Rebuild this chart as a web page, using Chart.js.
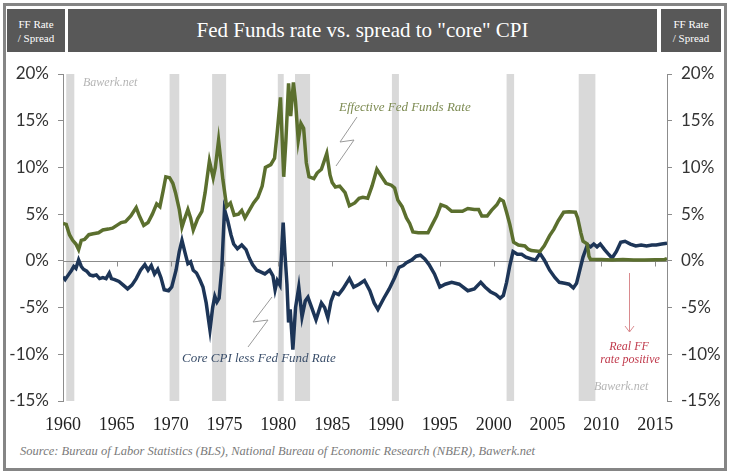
<!DOCTYPE html>
<html>
<head>
  <meta charset="utf-8" />
  <title>Fed Funds rate vs. spread to core CPI</title>
  <script src="https://cdn.jsdelivr.net/npm/chart.js"></script>
  <style>
    body { margin: 0; background: #fff; }
    #wrap { position: relative; width: 730px; height: 474px; overflow: hidden; }
    #frame { position: absolute; left: 3px; top: 3px; width: 718px; height: 462px; border: 3px solid #858585; }
    .hbox { position: absolute; top: 9px; height: 43px; background: #585858; color: #fff;
            font-family: "Liberation Serif", serif; display: flex; align-items: center; justify-content: center; text-align: center; }
    .side { font-size: 11px; line-height: 14px; }
    #title { font-size: 21px; }
    #source { position: absolute; left: 20px; top: 444px; font: italic 12.5px "Liberation Serif", serif; color: #7a7a7a; }
    canvas { position: absolute; left: 0; top: 0; }
  </style>
</head>
<body>
<div id="wrap">
  <div id="frame"></div>
  <div class="hbox side" style="left:7px;width:58px;">FF Rate<br>/ Spread</div>
  <div class="hbox" id="title" style="left:68px;width:589px;">Fed Funds rate vs. spread to "core" CPI</div>
  <div class="hbox side" style="left:661px;width:60px;">FF Rate<br>/ Spread</div>
  <div id="source">Source: Bureau of Labor Statistics (BLS), National Bureau of Economic Research (NBER), Bawerk.net</div>
  <canvas id="chart" width="730" height="474"></canvas>
</div>

<script>
  // Effective Fed Funds rate (%)
  const ffYears = [1960.0, 1960.3, 1960.6, 1960.9, 1961.2, 1961.45, 1961.7, 1962.0, 1962.4, 1962.8, 1963.3, 1963.7, 1964.2, 1964.6, 1965.0, 1965.4, 1965.8, 1966.3, 1966.8, 1967.1, 1967.5, 1967.9, 1968.3, 1968.7, 1969.0, 1969.3, 1969.55, 1969.9, 1970.2, 1970.45, 1970.8, 1971.05, 1971.3, 1971.6, 1971.85, 1972.1, 1972.5, 1972.9, 1973.2, 1973.6, 1973.95, 1974.15, 1974.45, 1974.85, 1975.2, 1975.55, 1975.9, 1976.3, 1976.6, 1976.9, 1977.3, 1977.7, 1978.1, 1978.5, 1978.8, 1979.3, 1979.65, 1979.9, 1980.2, 1980.5, 1980.7, 1980.95, 1981.15, 1981.4, 1981.6, 1981.85, 1982.1, 1982.35, 1982.6, 1982.85, 1983.3, 1983.6, 1984.0, 1984.5, 1984.8, 1985.0, 1985.3, 1985.7, 1986.2, 1986.6, 1987.1, 1987.5, 1987.85, 1988.3, 1988.7, 1989.15, 1989.6, 1990.0, 1990.5, 1990.8, 1991.1, 1991.5, 1991.9, 1992.2, 1992.5, 1993.0, 1993.9, 1994.3, 1994.7, 1995.1, 1995.6, 1996.1, 1996.6, 1997.1, 1997.6, 1998.2, 1998.6, 1998.9, 1999.4, 1999.8, 2000.3, 2000.6, 2000.9, 2001.2, 2001.5, 2001.85, 2002.3, 2002.9, 2003.2, 2003.5, 2004.3, 2004.7, 2005.2, 2005.6, 2006.0, 2006.5, 2007.0, 2007.6, 2007.8, 2008.1, 2008.3, 2008.7, 2008.85, 2009.0, 2010.0, 2011.0, 2012.0, 2013.0, 2014.0, 2015.0, 2015.9, 2016.1];
  const ffRate = [4.0, 3.9, 2.8, 2.2, 1.8, 1.2, 2.2, 2.3, 2.8, 2.9, 3.0, 3.3, 3.4, 3.5, 3.8, 4.1, 4.2, 4.8, 5.7, 4.8, 3.8, 4.1, 5.0, 6.1, 5.8, 7.5, 9.0, 8.9, 8.3, 7.3, 5.5, 3.6, 4.5, 5.5, 4.6, 3.3, 4.5, 5.3, 7.3, 10.7, 8.9, 10.0, 12.9, 8.7, 5.8, 6.2, 4.9, 5.0, 5.4, 4.6, 5.4, 6.2, 6.8, 8.0, 10.0, 10.3, 11.0, 13.8, 17.5, 9.0, 12.8, 19.0, 15.5, 19.1, 17.0, 12.9, 14.7, 14.2, 10.5, 9.0, 8.8, 9.4, 9.8, 11.5, 9.2, 8.4, 7.9, 8.0, 7.3, 5.9, 6.2, 6.7, 6.8, 6.7, 8.0, 9.8, 9.0, 8.3, 8.1, 7.8, 6.5, 5.8, 4.6, 4.0, 3.1, 3.0, 3.0, 3.9, 4.8, 6.0, 5.8, 5.3, 5.3, 5.3, 5.6, 5.5, 5.5, 4.8, 4.8, 5.4, 6.0, 6.6, 6.4, 5.2, 3.9, 2.0, 1.7, 1.6, 1.25, 1.1, 1.0, 1.6, 2.7, 3.4, 4.3, 5.2, 5.25, 5.2, 4.6, 3.0, 2.1, 1.8, 0.5, 0.15, 0.15, 0.1, 0.15, 0.1, 0.1, 0.12, 0.15, 0.25];

  // Core CPI less Fed Funds rate (%)
  const spreadYears = [1960.0, 1960.2, 1960.5, 1960.8, 1961.0, 1961.2, 1961.45, 1961.7, 1961.9, 1962.2, 1962.5, 1962.8, 1963.1, 1963.4, 1963.7, 1964.0, 1964.3, 1964.5, 1964.8, 1965.2, 1965.6, 1966.0, 1966.4, 1966.8, 1967.2, 1967.6, 1967.9, 1968.2, 1968.5, 1968.8, 1969.1, 1969.4, 1969.8, 1970.1, 1970.5, 1970.8, 1971.05, 1971.35, 1971.6, 1971.85, 1972.1, 1972.4, 1972.7, 1973.0, 1973.3, 1973.65, 1973.9, 1974.1, 1974.3, 1974.5, 1974.75, 1975.0, 1975.3, 1975.6, 1975.85, 1976.2, 1976.6, 1977.0, 1977.3, 1977.6, 1978.0, 1978.4, 1978.75, 1979.2, 1979.5, 1979.7, 1979.9, 1980.15, 1980.35, 1980.45, 1980.6, 1980.8, 1980.95, 1981.1, 1981.35, 1981.6, 1981.9, 1982.2, 1982.5, 1982.75, 1983.1, 1983.5, 1984.0, 1984.3, 1984.6, 1984.9, 1985.2, 1985.6, 1986.0, 1986.6, 1987.0, 1987.5, 1988.0, 1988.5, 1988.9, 1989.25, 1989.8, 1990.3, 1990.8, 1991.2, 1991.6, 1991.9, 1992.4, 1992.8, 1993.2, 1993.6, 1994.0, 1994.5, 1995.0, 1995.5, 1996.1, 1996.8, 1997.6, 1998.2, 1998.8, 1999.2, 1999.7, 2000.2, 2000.6, 2000.9, 2001.2, 2001.5, 2001.8, 2002.2, 2002.6, 2003.0, 2003.5, 2003.9, 2004.3, 2004.7, 2005.2, 2005.7, 2006.1, 2006.6, 2007.0, 2007.4, 2007.7, 2008.0, 2008.3, 2008.7, 2009.0, 2009.3, 2009.6, 2009.9, 2010.3, 2010.6, 2011.0, 2011.4, 2011.8, 2012.2, 2012.7, 2013.2, 2013.7, 2014.2, 2014.7, 2015.1, 2015.6, 2016.1];
  const spread = [-1.7, -2.0, -1.5, -1.0, -0.6, -0.8, 0.1, -0.6, -0.9, -1.1, -1.5, -1.6, -1.5, -1.9, -1.8, -1.9, -1.3, -1.9, -2.0, -2.2, -2.6, -3.0, -2.6, -1.9, -1.0, -0.4, -1.0, -0.5, -1.4, -0.9, -1.8, -3.1, -3.2, -2.8, -1.0, 1.0, 2.2, 0.8, -0.3, -0.1, -1.0, -1.3, -2.0, -2.8, -4.5, -7.4, -5.0, -3.8, -4.4, -4.0, -0.8, 5.5, 4.3, 2.8, 1.8, 1.3, 1.7, 1.2, 0.3, -0.4, -1.0, -1.2, -1.4, -1.0, -1.6, -3.1, -2.1, -2.6, 2.0, 4.1, 1.0, -2.5, -6.6, -5.2, -9.5, -5.0, -2.8, -6.0, -4.3, -3.9, -5.0, -6.3, -4.5, -5.0, -6.1, -4.3, -3.4, -3.6, -3.0, -1.9, -2.8, -2.5, -2.1, -3.2, -4.5, -5.2, -4.0, -3.0, -1.8, -0.7, -0.5, -0.2, 0.1, 0.5, 0.6, 0.2, -0.4, -1.4, -2.8, -2.5, -2.3, -2.5, -3.2, -3.0, -2.3, -2.8, -3.3, -3.6, -4.0, -3.7, -2.3, -0.5, 1.0, 0.7, 0.7, 0.4, 0.2, 0.1, 0.8, 0.1, -1.0, -1.8, -2.3, -2.4, -2.5, -2.9, -2.4, -1.0, 0.4, 1.7, 1.5, 1.8, 1.5, 1.8, 1.2, 0.8, 0.3, 1.0, 2.0, 2.1, 1.8, 1.6, 1.7, 1.6, 1.7, 1.7, 1.8, 1.9];

  // NBER recessions
  const recessionStart = [1960.3, 1969.9, 1973.85, 1979.95, 1981.55, 1990.55, 2001.2, 2007.9];
  const recessionEnd = [1961.05, 1970.8, 1975.15, 1980.5, 1982.95, 1991.2, 2001.9, 2009.45];

  const yTicks = [-15, -10, -5, 0, 5, 10, 15, 20];
  const xTicks = [1960, 1965, 1970, 1975, 1980, 1985, 1990, 1995, 2000, 2005, 2010, 2015];

  const green = '#5b6f2e';
  const navy = '#1d3557';

  const bandsPlugin = {
    id: 'bands',
    beforeDatasetsDraw(chart) {
      const { ctx, chartArea: a, scales: { x, y } } = chart;
      ctx.save();
      ctx.fillStyle = '#d9d9d9';
      recessionStart.forEach((s, i) => {
        const x0 = x.getPixelForValue(s);
        const x1 = x.getPixelForValue(recessionEnd[i]);
        ctx.fillRect(x0, a.top, x1 - x0, a.bottom - a.top);
      });
      // zero line + year ticks
      const y0 = Math.round(y.getPixelForValue(0)) + 0.5;
      ctx.strokeStyle = '#8c8c8c';
      ctx.lineWidth = 1;
      ctx.beginPath();
      ctx.moveTo(a.left, y0);
      ctx.lineTo(a.right, y0);
      xTicks.forEach(yr => {
        const px = Math.round(x.getPixelForValue(yr)) + 0.5;
        ctx.moveTo(px, y0);
        ctx.lineTo(px, y0 + 5);
      });
      ctx.stroke();
      ctx.restore();
    },
    afterDraw(chart) {
      const ctx = chart.ctx;
      ctx.save();
      ctx.textBaseline = 'middle';
      ctx.font = 'italic 13px "Liberation Serif"';
      ctx.fillStyle = '#7d8b52';
      ctx.fillText('Effective Fed Funds Rate', 339, 108);
      ctx.fillStyle = '#3b4f6b';
      ctx.fillText('Core CPI less Fed Fund Rate', 182, 359);
      ctx.font = 'italic 12px "Liberation Serif"';
      ctx.fillStyle = '#b5b5b5';
      ctx.fillText('Bawerk.net', 83, 83);
      ctx.fillText('Bawerk.net', 594, 387);
      ctx.fillStyle = '#c0394b';
      ctx.textAlign = 'center';
      ctx.fillText('Real FF', 629, 347);
      ctx.fillText('rate positive', 630, 360);

      // lightning connectors
      ctx.strokeStyle = '#9a9a9a';
      ctx.lineWidth = 1;
      ctx.beginPath();
      ctx.moveTo(357, 117); ctx.lineTo(340, 142); ctx.lineTo(354, 140); ctx.lineTo(336, 166);
      ctx.moveTo(272, 297); ctx.lineTo(253, 322); ctx.lineTo(268, 320); ctx.lineTo(248, 347);
      ctx.stroke();

      // red arrow
      ctx.strokeStyle = '#d98a8e';
      ctx.beginPath();
      ctx.moveTo(629.5, 273); ctx.lineTo(629.5, 332);
      ctx.moveTo(625, 326); ctx.lineTo(629.5, 332); ctx.lineTo(634, 326);
      ctx.stroke();
      ctx.restore();
    }
  };

  const tickFont = { family: 'Lato', size: 17 };

  new Chart(document.getElementById('chart'), {
    type: 'line',
    data: {
      datasets: [
        {
          label: 'Effective Fed Funds Rate',
          data: ffYears.map((yr, i) => ({ x: yr, y: ffRate[i] })),
          borderColor: green,
          borderWidth: 3.5,
          pointRadius: 0,
          fill: false
        },
        {
          label: 'Core CPI less Fed Fund Rate',
          data: spreadYears.map((yr, i) => ({ x: yr, y: spread[i] })),
          borderColor: navy,
          borderWidth: 3.5,
          pointRadius: 0,
          fill: false
        }
      ]
    },
    options: {
      responsive: false,
      animation: false,
      layout: { padding: { top: 74, left: 0, right: 0, bottom: 0 } },
      plugins: { legend: { display: false }, tooltip: { enabled: false } },
      scales: {
        x: {
          type: 'linear',
          min: 1960,
          max: 2016.1,
          afterBuildTicks: s => { s.ticks = xTicks.map(v => ({ value: v })); },
          afterFit: s => { s.height = 73; },
          grid: { display: false, drawTicks: false },
          border: { display: false },
          ticks: {
            callback: v => String(v),
            font: { family: 'Liberation Serif', size: 18 },
            color: '#222',
            padding: 13,
            maxRotation: 0
          }
        },
        y: {
          position: 'left',
          min: -15,
          max: 20,
          afterBuildTicks: s => { s.ticks = yTicks.map(v => ({ value: v })); },
          afterFit: s => { s.width = 63; },
          grid: { drawOnChartArea: false, tickLength: 5, color: '#8c8c8c' },
          border: { color: '#8c8c8c' },
          ticks: { callback: v => v + '%', font: tickFont, color: '#333', padding: 9 }
        },
        y2: {
          position: 'right',
          min: -15,
          max: 20,
          afterBuildTicks: s => { s.ticks = yTicks.map(v => ({ value: v })); },
          afterFit: s => { s.width = 63; },
          grid: { drawOnChartArea: false, tickLength: 5, color: '#8c8c8c' },
          border: { color: '#8c8c8c' },
          ticks: { callback: v => v + '%', font: tickFont, color: '#333', padding: 9 }
        }
      }
    },
    plugins: [bandsPlugin]
  });
</script>
</body>
</html>
